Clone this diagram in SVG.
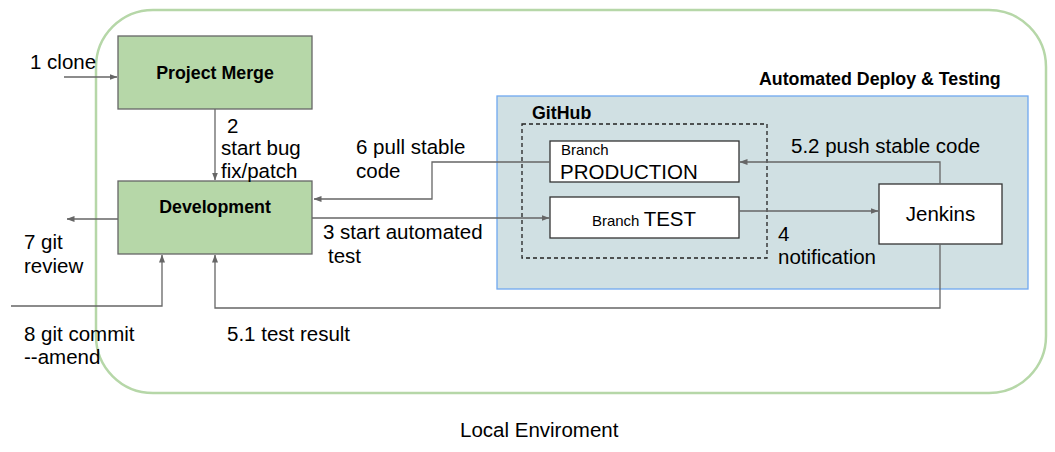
<svg xmlns="http://www.w3.org/2000/svg" width="1055" height="452" viewBox="0 0 1055 452">
<defs>
<marker id="arr" markerWidth="8" markerHeight="6" refX="7.5" refY="3" orient="auto" markerUnits="userSpaceOnUse">
<path d="M0,0 L8,3 L0,6 Z" fill="#666666"/>
</marker>
</defs>
<style>
text{font-family:"Liberation Sans",Arial,sans-serif;fill:#000}
.t{font-size:20.5px}
.b{font-size:17.8px;font-weight:bold}
.s{font-size:15px}
.green{fill:#b6d7a8;stroke:#666666;stroke-width:1.3}
.white{fill:#ffffff;stroke:#333333;stroke-width:1.3}
.conn{fill:none;stroke:#666666;stroke-width:1.3}
</style>
<rect width="1055" height="452" fill="#ffffff"/>
<g id="local-env">
<rect x="96" y="10" width="950" height="383" rx="57" ry="57" fill="none" stroke="#b6d7a8" stroke-width="2.5"/>
<text class="t" x="460" y="437">Local Enviroment</text>
</g>
<g id="automated">
<rect x="497" y="96" width="531" height="193" fill="#d0e0e3" stroke="#6fa8f0" stroke-width="1.3"/>
<text class="b" x="759" y="85">Automated Deploy &amp; Testing</text>
</g>
<g id="github">
<rect x="522" y="124" width="245" height="134" fill="none" stroke="#222222" stroke-width="1.3" stroke-dasharray="4,3"/>
<text class="b" x="532" y="119">GitHub</text>
</g>
<g id="project-merge">
<rect class="green" x="118" y="36" width="194" height="73"/>
<text class="b" x="215" y="79" text-anchor="middle">Project Merge</text>
</g>
<g id="development">
<rect class="green" x="118" y="181" width="194" height="73"/>
<text class="b" x="215" y="213" text-anchor="middle">Development</text>
</g>
<g id="branch-production">
<rect class="white" x="550" y="141" width="189" height="41"/>
<text class="s" x="561" y="155">Branch</text>
<text class="t" x="560" y="179">PRODUCTION</text>
</g>
<g id="branch-test">
<rect class="white" x="550" y="197" width="189" height="41"/>
<text x="644" y="226" text-anchor="middle"><tspan class="s">Branch </tspan><tspan class="t">TEST</tspan></text>
</g>
<g id="jenkins">
<rect class="white" x="879" y="184" width="123" height="60"/>
<text class="t" x="940.5" y="221" text-anchor="middle">Jenkins</text>
</g>
<g id="connectors">
<path class="conn" d="M64,77 L117,77" marker-end="url(#arr)"/>
<path class="conn" d="M215,109 L215,180" marker-end="url(#arr)"/>
<path class="conn" d="M550,162 L432,162 L432,199 L314,199" marker-end="url(#arr)"/>
<path class="conn" d="M312,218 L549,218" marker-end="url(#arr)"/>
<path class="conn" d="M739,211 L878,211" marker-end="url(#arr)"/>
<path class="conn" d="M940,184 L940,162 L740,162" marker-end="url(#arr)"/>
<path class="conn" d="M940,244 L940,308 L215,308 L215,255" marker-end="url(#arr)"/>
<path class="conn" d="M118,219 L67,219" marker-end="url(#arr)"/>
<path class="conn" d="M11,306 L162,306 L162,255" marker-end="url(#arr)"/>
</g>
<g id="labels">
<text class="t" x="30" y="69">1 clone</text>
<text class="t" x="227" y="133">2</text>
<text class="t" x="221" y="155">start bug</text>
<text class="t" x="221" y="178">fix/patch</text>
<text class="t" x="356" y="154">6 pull stable</text>
<text class="t" x="356" y="178">code</text>
<text class="t" x="323" y="239">3 start automated</text>
<text class="t" x="328" y="263">test</text>
<text class="t" x="778" y="241">4</text>
<text class="t" x="778" y="264">notification</text>
<text class="t" x="791" y="153">5.2 push stable code</text>
<text class="t" x="227" y="341">5.1 test result</text>
<text class="t" x="24" y="249">7 git</text>
<text class="t" x="24" y="273">review</text>
<text class="t" x="24" y="341">8 git commit</text>
<text class="t" x="24" y="364">--amend</text>
</g>
</svg>
